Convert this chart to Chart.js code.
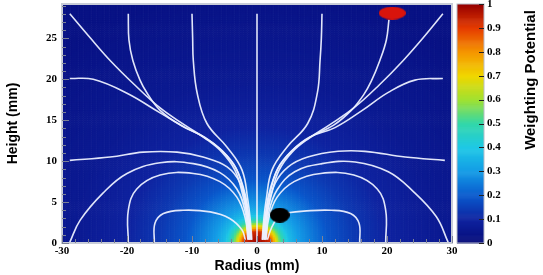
<!DOCTYPE html>
<html>
<head>
<title>Weighting Potential</title>
<script src="https://cdn.jsdelivr.net/npm/chart.js"></script>
<style>
  html, body { margin: 0; padding: 0; background: #fff; }
</style>
</head>
<body>
<canvas id="grafica" width="543" height="275"></canvas>
<script>
// tick values
const xTicks = [-30, -20, -10, 0, 10, 20, 30];
const yTicks = [0, 5, 10, 15, 20, 25];
const cbarTicks = [0, 0.1, 0.2, 0.3, 0.4, 0.5, 0.6, 0.7, 0.8, 0.9, 1];
const cbarLabels = ['0', '0.1', '0.2', '0.3', '0.4', '0.5', '0.6', '0.7', '0.8', '0.9', '1'];

// weighting potential vs distance from the pixel (mm)
const potDist = [0, 2.0, 2.5, 3.0, 3.5, 4.2, 5, 6.5, 8.5, 11, 15, 20, 28, 45];
const potVal  = [1, 0.93, 0.8, 0.68, 0.55, 0.45, 0.37, 0.3, 0.25, 0.19, 0.14, 0.1, 0.065, 0.03];

// palette of the colour bar
const paletteStops = [0, 0.1, 0.2, 0.3, 0.4, 0.5, 0.6, 0.7, 0.8, 0.9, 1];
const paletteRgb = [
  [5, 10, 120], [15, 35, 160], [10, 90, 205], [20, 155, 230], [30, 200, 230],
  [50, 215, 170], [160, 225, 50], [240, 215, 0], [245, 150, 0], [230, 60, 0], [150, 0, 0]
];

// field lines [radius mm, height mm]
const lineCenter = [[0, 0], [0, 28]];
const lineL_diag = [[-28.8, 28], [-25.7, 25.1], [-22.6, 22.3], [-18.8, 19.3], [-14.9, 16.5], [-11.1, 14.4], [-8, 12.8], [-5.4, 11.1], [-3.4, 8.9], [-2.2, 5.9], [-1.4, 2.8], [-1.1, 0.4]];
const lineL_20  = [[-28.8, 20.1], [-25.2, 20], [-20, 18.3], [-14.9, 15.9], [-10.8, 14], [-8, 12.9], [-5.4, 11.3], [-3.2, 9.1], [-2, 6.1], [-1.2, 2.8], [-0.9, 0.4]];
const lineL_top20 = [[-19.8, 28], [-19.7, 24.8], [-19.1, 22.3], [-18, 19.9], [-16.9, 18.3], [-14.9, 16.2], [-11.8, 14.4], [-8.3, 13], [-5.4, 11.3], [-3.2, 9.1], [-1.8, 5.9], [-1.2, 2.6], [-0.9, 0.4]];
const lineL_top10 = [[-10, 28], [-9.9, 25], [-9.8, 22.3], [-9.2, 18.3], [-7.7, 14.6], [-4.6, 11.7], [-2.3, 8.9], [-1.4, 5.2], [-1, 2.5], [-0.8, 0.4]];
const lineL_10  = [[-28.8, 10.1], [-22.6, 10.5], [-17.5, 11.1], [-12.3, 11.1], [-8.3, 10.5], [-4.6, 9.3], [-2.6, 7.3], [-1.6, 4], [-1.2, 0.4]];
const lineL_b30 = [[-28.8, 0.1], [-27.2, 2.8], [-23.7, 6.1], [-20, 8.5], [-14.9, 9.8], [-9.8, 9.7], [-5.7, 8.6], [-3.1, 6.6], [-1.8, 3.8], [-1.3, 0.4]];
const lineL_b20 = [[-19.8, 0.1], [-19.8, 4], [-18.5, 6.6], [-14.9, 8.3], [-9.8, 8.5], [-5.7, 7.5], [-3.1, 5.6], [-1.8, 3], [-1.4, 0.4]];
const lineL_b16 = [[-15.8, 0.1], [-15.7, 2.4], [-14.4, 3.6], [-11.4, 4], [-7.2, 3.8], [-4.2, 3], [-2.3, 1.6], [-1.8, 0.4]];
const lineR_diag = [[28.6, 28], [25.6, 25.1], [22.5, 22.3], [18.8, 19.3], [14.9, 16.5], [11.1, 14.4], [8, 12.8], [5.4, 11.1], [3.4, 8.9], [2.2, 5.9], [1.4, 2.8], [1.1, 0.4]];
const lineR_20  = [[28.6, 20.1], [24.3, 19.9], [20.2, 18.4], [16.2, 16.2], [12, 14.1], [8, 12.9], [5.4, 11.3], [3.2, 9.1], [2, 6.1], [1.2, 2.8], [0.9, 0.4]];
const lineR_top20 = [[20.3, 27.3], [19.9, 24.8], [18.9, 22.3], [17.6, 19.8], [16.4, 18.1], [14.5, 16.2], [11.8, 14.4], [8.3, 13], [5.4, 11.3], [3.2, 9.1], [1.8, 5.9], [1.2, 2.6], [0.9, 0.4]];
const lineR_top10 = [[10, 28], [9.9, 25], [9.7, 22.3], [9.3, 18.4], [7.8, 14.6], [4.6, 11.7], [2.3, 8.9], [1.4, 5.2], [1, 2.5], [0.8, 0.4]];
const lineR_10  = [[28.9, 10.1], [22.8, 10.5], [16.6, 11.2], [12.5, 11.2], [7.8, 10.5], [4.8, 9.3], [2.8, 7.3], [1.6, 4], [1.2, 0.4]];
const lineR_b30 = [[29.4, 0.1], [27.6, 3.2], [23.9, 6.4], [20.2, 8.7], [15.1, 9.9], [10, 9.7], [5.8, 8.7], [3.1, 6.5], [1.8, 3.7], [1.3, 0.4]];
const lineR_b20 = [[19.8, 0.1], [19.8, 4], [18.5, 6.6], [14.9, 8.3], [9.8, 8.5], [5.7, 7.5], [3.1, 5.6], [1.8, 3], [1.4, 0.4]];
const lineR_b16 = [[15.8, 0.1], [15.7, 2.4], [14.4, 3.6], [11.4, 4], [7.2, 3.9], [4.8, 3.7], [3.5, 3.4], [2.2, 1.8], [1.6, 0.4]];

// markers
const blackDot = [[3.5, 3.4]];
const redDot = [[20.8, 28.1]];

const fieldLines = [lineCenter, lineL_diag, lineL_20, lineL_top20, lineL_top10, lineL_10, lineL_b30, lineL_b20, lineL_b16,
  lineR_diag, lineR_20, lineR_top20, lineR_top10, lineR_10, lineR_b30, lineR_b20, lineR_b16];

function potential(r) {
  if (r >= potDist[potDist.length - 1]) return potVal[potVal.length - 1];
  for (let i = 1; i < potDist.length; i++) {
    if (r <= potDist[i]) {
      const t = (r - potDist[i - 1]) / (potDist[i] - potDist[i - 1]);
      return potVal[i - 1] + t * (potVal[i] - potVal[i - 1]);
    }
  }
}

function colorFor(v) {
  v = Math.max(0, Math.min(1, v));
  for (let i = 1; i < paletteStops.length; i++) {
    if (v <= paletteStops[i]) {
      const t = (v - paletteStops[i - 1]) / (paletteStops[i] - paletteStops[i - 1]);
      const a = paletteRgb[i - 1], b = paletteRgb[i];
      return 'rgb(' + Math.round(a[0] + t * (b[0] - a[0])) + ',' + Math.round(a[1] + t * (b[1] - a[1])) + ',' + Math.round(a[2] + t * (b[2] - a[2])) + ')';
    }
  }
  return 'rgb(150,0,0)';
}

function ellipseStyle(w, h, color) {
  const c = document.createElement('canvas');
  c.width = w; c.height = h;
  const g = c.getContext('2d');
  g.fillStyle = color;
  g.beginPath();
  g.ellipse(w / 2, h / 2, w / 2, h / 2, 0, 0, Math.PI * 2);
  g.fill();
  return c;
}

const toXY = pts => pts.map(p => ({x: p[0], y: p[1]}));

const datasets = fieldLines.map(l => ({
  type: 'line',
  data: toXY(l),
  borderColor: 'rgba(236,240,255,0.95)',
  borderWidth: 1.6,
  pointRadius: 0,
  pointHoverRadius: 0,
  tension: 0.4,
  fill: false,
  order: 2
}));
datasets.push({ data: toXY(blackDot), pointStyle: ellipseStyle(20, 15, '#000'), pointRadius: 1, pointHoverRadius: 1, borderWidth: 0, order: 0 });
datasets.push({ data: toXY(redDot), pointStyle: ellipseStyle(27, 13, '#d9140c'), pointRadius: 1, pointHoverRadius: 1, borderWidth: 0, order: 0 });

const mapaFondo = {
  id: 'mapaFondo',
  beforeDatasetsDraw(chart) {
    const {ctx, chartArea: a, scales: {x, y}} = chart;
    ctx.save();
    ctx.beginPath();
    ctx.rect(a.left, a.top, a.right - a.left, a.bottom - a.top);
    ctx.clip();
    const step = 0.25;
    for (let xv = x.min; xv < x.max; xv += step) {
      const px0 = x.getPixelForValue(xv), px1 = x.getPixelForValue(xv + step);
      for (let yv = y.min; yv < y.max; yv += step) {
        const py0 = y.getPixelForValue(yv + step), py1 = y.getPixelForValue(yv);
        const xc = xv + step / 2, yc = yv + step / 2;
        const r = Math.sqrt(xc * xc + 1.96 * yc * yc);
        ctx.fillStyle = colorFor(potential(r));
        ctx.fillRect(px0, py0, px1 - px0 + 0.6, py1 - py0 + 0.6);
      }
    }
    ctx.restore();
  },
  afterDraw(chart) {
    const {ctx, chartArea: a, scales: {x, y, y2}} = chart;
    ctx.save();
    // frame
    ctx.strokeStyle = '#c9cdd8';
    ctx.lineWidth = 2;
    ctx.strokeRect(a.left, a.top, a.right - a.left, a.bottom - a.top);
    // inward ticks
    ctx.strokeStyle = '#7d8296';
    ctx.lineWidth = 1;
    ctx.beginPath();
    for (let v = -30; v <= 30; v += 2) {
      const px = Math.round(x.getPixelForValue(v)) + 0.5;
      const len = v % 10 === 0 ? 7 : 4;
      ctx.moveTo(px, a.bottom);
      ctx.lineTo(px, a.bottom - len);
    }
    for (let v = 0; v <= 29; v += 1) {
      const py = Math.round(y.getPixelForValue(v)) + 0.5;
      const len = v % 5 === 0 ? 7 : 4;
      ctx.moveTo(a.left, py);
      ctx.lineTo(a.left + len, py);
    }
    ctx.stroke();
    // colour bar
    const x0 = a.right + 5, w = 27;
    for (let v = 0; v < 1; v += 0.004) {
      const p0 = y2.getPixelForValue(v + 0.004), p1 = y2.getPixelForValue(v);
      ctx.fillStyle = colorFor(v + 0.002);
      ctx.fillRect(x0, p0, w, p1 - p0 + 0.6);
    }
    ctx.strokeStyle = '#b8bcc8';
    ctx.strokeRect(x0, a.top, w, a.bottom - a.top);
    ctx.strokeStyle = '#222';
    ctx.beginPath();
    cbarTicks.forEach(v => {
      const py = Math.round(y2.getPixelForValue(v)) + 0.5;
      ctx.moveTo(x0 + w - 5, py);
      ctx.lineTo(x0 + w, py);
    });
    ctx.stroke();
    // colour bar title
    ctx.translate(531, 80);
    ctx.rotate(-Math.PI / 2);
    ctx.fillStyle = '#000';
    ctx.font = 'bold 15px "Liberation Sans", Arial, sans-serif';
    ctx.textAlign = 'center';
    ctx.textBaseline = 'middle';
    ctx.fillText('Weighting Potential', 0, 0);
    ctx.restore();
  }
};

const tickFont = {family: '"Liberation Serif", "Times New Roman", serif', weight: 'bold', size: 11};
const titleFont = {family: '"Liberation Sans", Arial, sans-serif', weight: 'bold', size: 14};

new Chart(document.getElementById('grafica'), {
  type: 'scatter',
  data: { datasets: datasets },
  options: {
    responsive: false,
    animation: false,
    layout: { autoPadding: false, padding: { top: 4, left: 0, right: 0, bottom: 0 } },
    plugins: { legend: { display: false }, tooltip: { enabled: false } },
    scales: {
      x: {
        type: 'linear', min: -30, max: 30,
        afterBuildTicks: s => { s.ticks = xTicks.map(v => ({value: v})); },
        afterFit: s => { s.height = 32; s.paddingLeft = 0; s.paddingRight = 0; },
        ticks: { font: tickFont, color: '#000', padding: 2, maxRotation: 0 },
        grid: { display: false, drawTicks: false },
        border: { display: false },
        title: { display: true, text: 'Radius (mm)', font: titleFont, color: '#000', padding: {top: 0, bottom: 0} }
      },
      y: {
        type: 'linear', min: 0, max: 29.2,
        afterBuildTicks: s => { s.ticks = yTicks.map(v => ({value: v})); },
        afterFit: s => { s.width = 62; s.paddingTop = 0; s.paddingBottom = 0; },
        ticks: { font: tickFont, color: '#000', padding: 5 },
        grid: { display: false, drawTicks: false },
        border: { display: false },
        title: { display: true, text: 'Height (mm)', font: titleFont, color: '#000', padding: {top: 5, bottom: 0} }
      },
      y2: {
        type: 'linear', position: 'right', min: 0, max: 1,
        afterBuildTicks: s => { s.ticks = cbarTicks.map(v => ({value: v})); },
        afterFit: s => { s.width = 91; s.paddingTop = 0; s.paddingBottom = 0; },
        ticks: { font: tickFont, color: '#000', padding: 35, callback: (v, i) => cbarLabels[i] },
        grid: { display: false, drawTicks: false },
        border: { display: false }
      }
    }
  },
  plugins: [mapaFondo]
});
</script>
</body>
</html>
